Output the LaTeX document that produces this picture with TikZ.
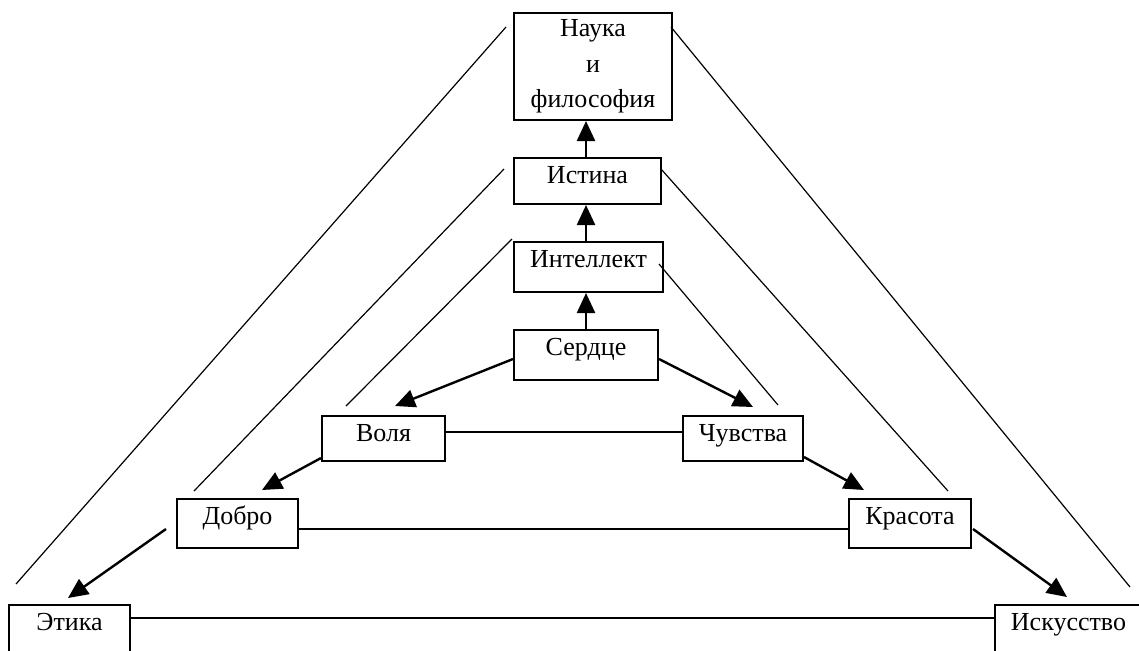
\documentclass[tikz,border=0pt]{standalone}
\usepackage{fontspec}
\setmainfont{Liberation Serif}
\usetikzlibrary{arrows.meta,positioning}

\begin{document}
\begin{tikzpicture}
			[
				x=0.5pt, y=-0.5pt,
				font=\fontsize{13}{17.75}\selectfont,
				box/.style={draw, line width=1pt, rectangle, inner sep=0pt, anchor=north west, text height=12.5pt},
				arrow/.style={-{Triangle[length=10pt,width=9pt]}, line width=1.2pt},
				link/.style={line width=0.6pt}
			]

			\useasboundingbox (0,0) rectangle (1139,650);

			% boxes
			\node[box,minimum width=79pt,minimum height=53.5pt,text height=,align=center] (nauka) at (513,12) {Наука\\и\\философия};
			\node[box,minimum width=73.5pt,text depth=10.5pt] (istina) at (513,157) {Истина};
			\node[box,minimum width=74.5pt,text depth=12.5pt] (intellekt) at (513,241) {Интеллект};
			\node[box,minimum width=72pt,text depth=12.5pt] (serdce) at (513,329) {Сердце};
			\node[box,minimum width=61.5pt,text depth=10pt] (volya) at (321,415) {Воля};
			\node[box,minimum width=60pt,text depth=10pt] (chuvstva) at (682,415) {Чувства};
			\node[box,minimum width=60.5pt,text depth=12pt] (dobro) at (176,498) {Добро};
			\node[box,minimum width=61pt,text depth=12pt] (krasota) at (848,498) {Красота};
			\node[box,minimum width=60.5pt,text depth=12.5pt] (etika) at (8,604) {Этика};
			\node[box,minimum width=73.5pt,text depth=12.5pt] (iskusstvo) at (994,604) {Искусство};

			% arrows up the middle
			\foreach \from/\to in {serdce/intellekt,intellekt/istina,istina/nauka}
			\draw[arrow] (\from.north -| serdce) -- (\to.south -| serdce);

			% arrows down the sides
			\draw[arrow] ([shift={(0,4)}]serdce.west) -- ([shift={(11.5,-9)}]volya.north);
			\draw[arrow] ([shift={(0,4)}]serdce.east) -- ([shift={(10,-8)}]chuvstva.north);
			\draw[arrow] ([shift={(0,-4)}]volya.south west) -- ([shift={(24.5,-8)}]dobro.north);
			\draw[arrow] ([shift={(0,-5)}]chuvstva.south east) -- ([shift={(-46,-8)}]krasota.north);
			\draw[arrow] ([shift={(-10,5.5)}]dobro.west) -- ([shift={(-1.5,-6)}]etika.north);
			\draw[arrow] ([shift={(1,5.5)}]krasota.east) -- ([shift={(-1.5,-7)}]iskusstvo.north);

			% horizontal links
			\draw[link] ([shift={(-2,-6.5)}]volya.east) -- ([shift={(0,-6.5)}]chuvstva.west);
			\draw[link] ([shift={(0,5.5)}]dobro.east) -- ([shift={(0,5.5)}]krasota.west);
			\draw[link] ([shift={(0,-12)}]etika.east) -- ([shift={(0,-12)}]iskusstvo.west);

			% slanted links
			\draw[link] ([shift={(-7,15)}]nauka.north west) -- ([shift={(8,-20)}]etika.north west);
			\draw[link] ([shift={(-9,12)}]istina.north west) -- ([shift={(18,-7)}]dobro.north west);
			\draw[link] ([shift={(-1,-2)}]intellekt.north west) -- ([shift={(25,-9)}]volya.north west);
			\draw[link] ([shift={(-2,15)}]nauka.north east) -- ([shift={(-13,-17)}]iskusstvo.north east);
			\draw[link] ([shift={(-1,12)}]istina.north east) -- ([shift={(-24,-7)}]krasota.north east);
			\draw[link] ([shift={(-5,-3)}]intellekt.east) -- ([shift={(35,-10)}]chuvstva.north);

		\end{tikzpicture}
\end{document}
